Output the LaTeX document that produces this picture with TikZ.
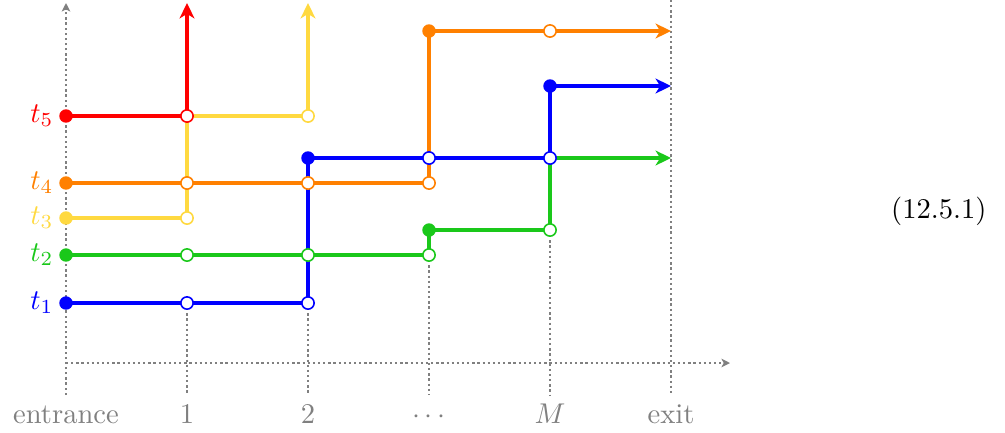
\documentclass[tikz,border=0pt]{standalone}
\usetikzlibrary{arrows.meta}
\definecolor{cred}{RGB}{255,0,0}
\definecolor{corange}{RGB}{255,128,0}
\definecolor{cyellow}{RGB}{255,217,64}
\definecolor{cgreen}{RGB}{26,200,26}
\definecolor{cblue}{RGB}{0,0,255}
\definecolor{cgray}{RGB}{128,128,128}
\begin{document}
\begin{tikzpicture}[x=0.35pt,y=-0.35pt,
  axisline/.style={cgray, densely dotted, line width=0.8pt},
  axisarrow/.style={axisline, -{Stealth[length=3pt,width=3pt,inset=0.8pt]}},
  track/.style={line width=1.4pt, line join=round},
  trackarrow/.style={track, -{Stealth[length=5.4pt,width=5.2pt,inset=1.6pt]}},
  fdot/.style={circle, fill=#1, inner sep=0pt, minimum size=4.7pt},
  odot/.style={circle, draw=#1, fill=white, line width=0.55pt, inner sep=0pt, minimum size=4.3pt},
  tlabel/.style={anchor=base east, inner sep=0pt},
  blabel/.style={anchor=base, inner sep=0pt, text=cgray}]
\useasboundingbox (0,0) rectangle (1005,432);

% axis coordinates
\coordinate (vbot) at (66,395);
\coordinate (vtop) at (66,3);
\coordinate (hleft) at (66,363);
\coordinate (hright) at (730,363);
\coordinate (k1) at (187,395);
\coordinate (k2) at (308,395);
\coordinate (k3) at (429,395);
\coordinate (kM) at (550,395);
\coordinate (kX) at (671,395);
\coordinate (xtop) at (671,0);

% track coordinates
\coordinate (b0) at (66,303);  \coordinate (b1) at (187,303); \coordinate (b2) at (308,303);
\coordinate (b3) at (308,158); \coordinate (b4) at (429,158); \coordinate (b5) at (550,158);
\coordinate (b6) at (550,86);  \coordinate (b7) at (671,86);
\coordinate (g0) at (66,255);  \coordinate (g1) at (187,255); \coordinate (g2) at (308,255);
\coordinate (g3) at (429,255); \coordinate (g4) at (429,230); \coordinate (g5) at (550,230);
\coordinate (g7) at (671,158);
\coordinate (y0) at (66,218);  \coordinate (y1) at (187,218); \coordinate (y4) at (308,116);
\coordinate (y5) at (308,3);
\coordinate (o0) at (66,183);  \coordinate (o1) at (187,183); \coordinate (o2) at (308,183);
\coordinate (o3) at (429,183); \coordinate (o4) at (429,31);  \coordinate (o5) at (550,31);
\coordinate (o6) at (671,31);
\coordinate (r0) at (66,116);  \coordinate (r1) at (187,116); \coordinate (r2) at (187,3);

% dotted axes and guides
\draw[axisarrow] (vbot) -- (vtop);
\draw[axisarrow] (hleft) -- (hright);
\draw[axisline] (b1) -- (k1);
\draw[axisline] (b2) -- (k2);
\draw[axisline] (g3) -- (k3);
\draw[axisline] (g5) -- (kM);
\draw[axisline] (xtop) -- (kX);

% tracks
\draw[trackarrow, cblue] (b0) -- (b1) -- (b2) -- (b3) -- (b4) -- (b5) -- (b6) -- (b7);
\draw[trackarrow, cgreen] (g0) -- (g1) -- (g2) -- (g3) -- (g4) -- (g5) -- (b5) -- (g7);
\draw[trackarrow, cyellow] (y0) -- (y1) -- (o1) -- (r1) -- (y4) -- (y5);
\draw[trackarrow, corange] (o0) -- (o1) -- (o2) -- (o3) -- (o4) -- (o5) -- (o6);
\draw[trackarrow, cred] (r0) -- (r1) -- (r2);

% dots
\node[fdot=cblue] (B0) at (b0) {};
\node[odot=cblue] (B1) at (b1) {};
\node[odot=cblue] (B2) at (b2) {};
\node[fdot=cblue] (B3) at (b3) {};
\node[odot=cblue] (B4) at (b4) {};
\node[odot=cblue] (B5) at (b5) {};
\node[fdot=cblue] (B6) at (b6) {};
\node[fdot=cgreen] (G0) at (g0) {};
\node[odot=cgreen] (G1) at (g1) {};
\node[odot=cgreen] (G2) at (g2) {};
\node[odot=cgreen] (G3) at (g3) {};
\node[fdot=cgreen] (G4) at (g4) {};
\node[odot=cgreen] (G5) at (g5) {};
\node[fdot=cyellow] (Y0) at (y0) {};
\node[odot=cyellow] (Y1) at (y1) {};
\node[odot=cyellow] (Y4) at (y4) {};
\node[fdot=corange] (O0) at (o0) {};
\node[odot=corange] (O1) at (o1) {};
\node[odot=corange] (O2) at (o2) {};
\node[odot=corange] (O3) at (o3) {};
\node[fdot=corange] (O4) at (o4) {};
\node[odot=corange] (O5) at (o5) {};
\node[fdot=cred] (R0) at (r0) {};
\node[odot=cred] (R1) at (r1) {};

% labels
\node[tlabel, text=cblue]   (t1) at (54,309.5) {$t_1$};
\node[tlabel, text=cgreen]  (t2) at (54,261.5) {$t_2$};
\node[tlabel, text=cyellow] (t3) at (54,224.5) {$t_3$};
\node[tlabel, text=corange] (t4) at (54,189.5) {$t_4$};
\node[tlabel, text=cred]    (t5) at (54,122.5) {$t_5$};

\node[blabel] (lE) at (66,423) {entrance};
\node[blabel] (l1) at (187,423) {1};
\node[blabel] (l2) at (308,423) {2};
\node[blabel] (l3) at (429,423) {$\cdots$};
\node[blabel] (lM) at (550,423) {$M$};
\node[blabel] (lX) at (671,423) {exit};

\node[anchor=base east, inner sep=0pt] (eq) at (987,218) {(12.5.1)};
\end{tikzpicture}
\end{document}
